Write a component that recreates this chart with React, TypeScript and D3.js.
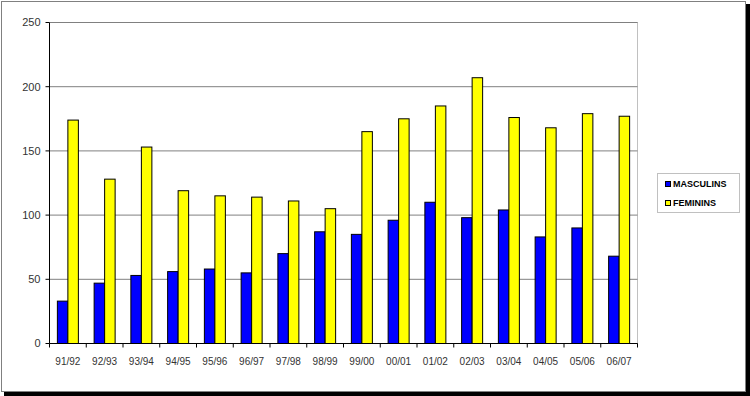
import React from "react";
import * as d3 from "d3";

const categories = ["91/92","92/93","93/94","94/95","95/96","96/97","97/98","98/99","99/00","00/01","01/02","02/03","03/04","04/05","05/06","06/07"];
const masculins = [33, 47, 53, 56, 58, 55, 70, 87, 85, 96, 110, 98, 104, 83, 90, 68];
const feminins = [174, 128, 153, 119, 115, 114, 111, 105, 165, 175, 185, 207, 176, 168, 179, 177];
const yTicks = [0, 50, 100, 150, 200, 250];
const seriesNames = ["MASCULINS", "FEMININS"];
const seriesColors = ["#0000FF", "#FFFF00"];

export default function App() {
  const W = 750, H = 396;
  const left = 49.5, right = 637.5, top = 22.5, bottom = 343.5;
  const x = d3.scaleBand<string>().domain(categories).range([left, right]).paddingInner(0).paddingOuter(0);
  const y = d3.scaleLinear().domain([0, 250]).range([bottom, top]);
  const bw = x.bandwidth() / 3.5;
  const series = [masculins, feminins];
  const font = "Arial, 'Liberation Sans', sans-serif";
  const boundaries = categories.map((c) => x(c)!).concat([right]);

  return (
    <svg width={W} height={H} style={{ position: "absolute", left: 0, top: 0 }}>
      <rect x={0} y={0} width={W} height={H} fill="#fff" />
      {/* shadow */}
      <rect x={4} y={392} width={746} height={4} fill="#000" />
      <rect x={746} y={4} width={4} height={392} fill="#000" />
      <rect x={1.5} y={1.5} width={744} height={390} fill="#fff" stroke="#000" strokeWidth={1} strokeDasharray="1,1" />
      {/* grid */}
      {yTicks.map((t) => (
        <line key={"g" + t} x1={left} x2={right} y1={y(t)} y2={y(t)} stroke="#808080" strokeWidth={1} />
      ))}
      <line x1={right} x2={right} y1={top} y2={bottom} stroke="#808080" strokeWidth={1} strokeDasharray="1,1" />
      {/* bars */}
      {series.map((vals, si) =>
        vals.map((v, i) => {
          const bx = x(categories[i])! + 0.75 * bw + si * bw;
          return (
            <rect key={si + "-" + i} x={bx} y={y(v)} width={bw} height={bottom - y(v)}
              fill={seriesColors[si]} stroke="#000" strokeWidth={1} />
          );
        })
      )}
      {/* axes */}
      <line x1={left} x2={left} y1={top} y2={bottom} stroke="#000" />
      <line x1={left} x2={right} y1={bottom} y2={bottom} stroke="#000" />
      {yTicks.map((t) => (
        <g key={"yt" + t}>
          <line x1={left - 4} x2={left} y1={y(t)} y2={y(t)} stroke="#000" />
          <text x={left - 9} y={y(t)} dy="0.35em" textAnchor="end" fontFamily={font} fontSize={11} fill="#333">{t}</text>
        </g>
      ))}
      {boundaries.map((b, i) => (
        <line key={"xt" + i} x1={b} x2={b} y1={bottom} y2={bottom + 4} stroke="#000" />
      ))}
      {categories.map((c) => (
        <text key={"xl" + c} x={x(c)! + x.bandwidth() / 2} y={361} dy="0.35em" textAnchor="middle" fontFamily={font} fontSize={10} fill="#333">{c}</text>
      ))}
      {/* legend */}
      <rect x={657.5} y={173.5} width={82} height={39} fill="#fff" stroke="#808080" strokeDasharray="1,1" />
      {seriesNames.map((n, i) => (
        <g key={n}>
          <rect x={665.5} y={184 + i * 19 - 2.5} width={5} height={5} fill={seriesColors[i]} stroke="#000" />
          <text x={673} y={184 + i * 19} dy="0.35em" fontFamily={font} fontSize={9} fontWeight="bold" fill="#000">{n}</text>
        </g>
      ))}
    </svg>
  );
}
